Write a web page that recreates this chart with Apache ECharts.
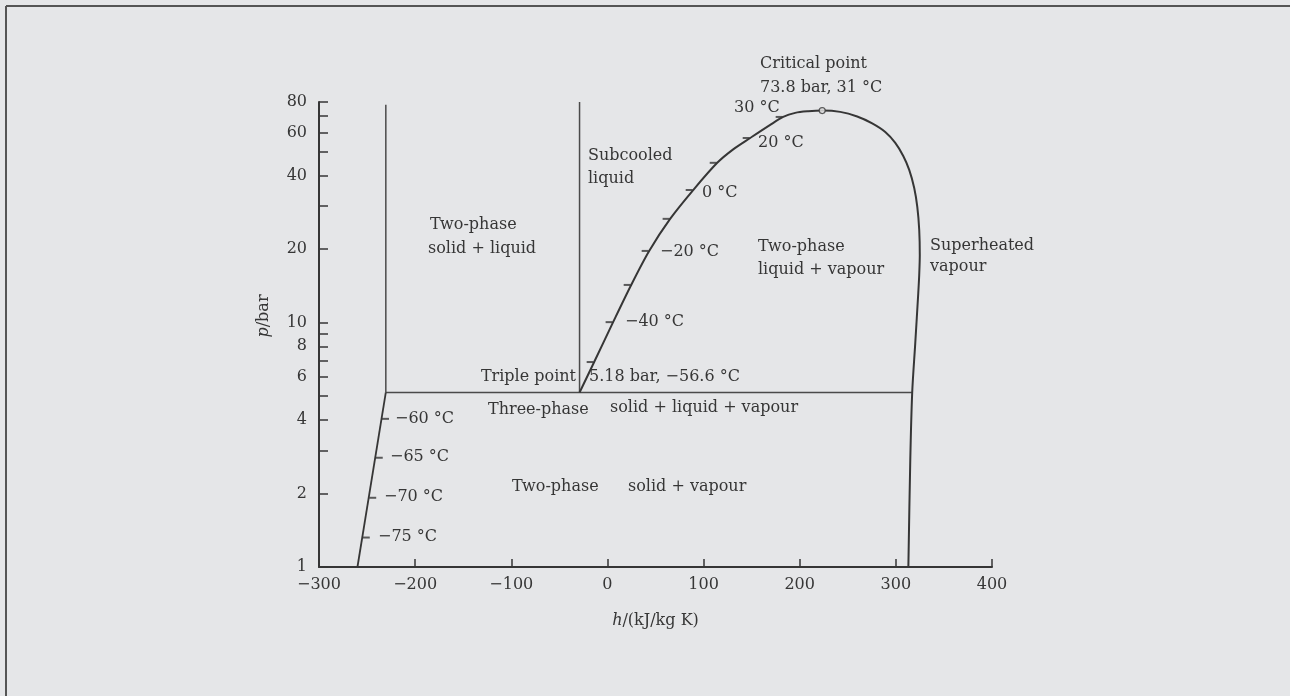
<!DOCTYPE html>
<html>
<head>
<meta charset="utf-8">
<title>CO2 p-h diagram</title>
<script src="https://cdn.jsdelivr.net/npm/echarts@6/dist/echarts.min.js"></script>
<style>
html,body{margin:0;padding:0;background:#e5e6e8;}
#chart{width:1290px;height:696px;}
</style>
</head>
<body>
<div id="chart"></div>
<script>
// saturation dome: liquid side, critical point, vapour side (h in kJ/kg, p in bar)
var domeH = [-29, -13.8, 5.9, 24.7, 43.4, 65.2, 89.2, 114.2, 130.8, 148.5, 169.3, 182.8, 195.3, 208.8, 223.4,
	242.1, 259.8, 275.4, 289.0, 299.4, 307.7, 313.9, 319.1, 322.3, 324.3, 324.9, 324.3, 323.3, 320.2, 317, 315, 313];
var domeP = [5.18, 6.9, 10.05, 14.27, 19.66, 26.6, 34.9, 45.1, 51.2, 57.0, 64.5, 69.5, 72.2, 73.3, 73.8,
	72.9, 69.8, 65.4, 60.3, 54.4, 48.1, 42.2, 35.6, 29.8, 24.0, 18.9, 15.7, 13.2, 8.27, 5.18, 2.74, 1];
// phase boundaries
var meltLeftH = [-230.5, -230.5];
var meltLeftP = [5.18, 78];
var meltRightH = [-29, -29];
var meltRightP = [5.18, 80];
var tripleH = [-230.5, 317];
var tripleP = [5.18, 5.18];
var sublimH = [-260, -230.5];
var sublimP = [1, 5.18];
// temperature marks: -50 ... 30 degC on the liquid line, -60 ... -75 degC on the solid line
var liqTickH = [-13.8, 5.9, 24.7, 43.4, 65.2, 89.2, 114.2, 148.5, 182.8];
var liqTickP = [6.9, 10.05, 14.27, 19.66, 26.6, 34.9, 45.1, 57.0, 69.5];
var subTickH = [-235, -241.5, -248.3, -255];
var subTickP = [4.04, 2.8, 1.92, 1.32];
var critical = [223.4, 73.8];
// axis ticks
var yTicks = [1, 2, 3, 4, 5, 6, 7, 8, 9, 10, 20, 30, 40, 50, 60, 70, 80];
var yLabels = [1, 2, 4, 6, 8, 10, 20, 40, 60, 80];

function zip(a, b){
	var out = [];
	for(var i=0;i<a.length;i++){ out.push([a[i], b[i]]); }
	return out;
}

var ink = '#363636';
var serif = '"DejaVu Serif", "Liberation Serif", serif';

function txt(x, y, s, align){
	return {
		type: 'text', x: x, y: y, silent: true,
		style: { text: s, fill: ink, font: '16px ' + serif, textAlign: align || 'left', textVerticalAlign: 'middle' }
	};
}

var myChart = echarts.init(document.getElementById('chart'));

function lineSeries(h, p, w, col){
	return {
		type: 'line', data: zip(h, p), symbol: 'none', silent: true,
		lineStyle: { color: col || ink, width: w || 1.6 }, z: 3
	};
}

var option = {
	backgroundColor: '#e5e6e8',
	animation: false,
	grid: { left: 319, top: 102, width: 673, height: 465 },
	xAxis: {
		type: 'value', min: -300, max: 400, interval: 100,
		name: '{i|h}/(kJ/kg K)', nameLocation: 'middle', nameGap: 46,
		nameTextStyle: { color: ink, fontFamily: serif, fontSize: 16,
			rich: { i: { fontStyle: 'italic', fontFamily: serif, fontSize: 16, color: ink } } },
		axisLine: { onZero: false, lineStyle: { color: ink, width: 2 } },
		axisTick: { inside: true, length: 8, lineStyle: { color: ink, width: 1.5 } },
		axisLabel: { color: ink, fontFamily: serif, fontSize: 16, margin: 10,
			formatter: function(v){ return String(v).replace('-', '\u2212'); } },
		splitLine: { show: false }
	},
	yAxis: {
		type: 'log', logBase: 10, min: 1, max: 80,
		axisLine: { onZero: false, lineStyle: { color: ink, width: 2 } },
		axisTick: { inside: true, length: 9, customValues: yTicks, lineStyle: { color: ink, width: 1.5 } },
		axisLabel: { color: ink, fontFamily: serif, fontSize: 16, margin: 12, customValues: yLabels },
		splitLine: { show: false },
		minorTick: { show: false }
	},
	graphic: [
		{ type: 'line', shape: { x1: 6, y1: 6, x2: 1290, y2: 6 }, style: { stroke: '#555', lineWidth: 2 }, silent: true },
		{ type: 'line', shape: { x1: 6, y1: 6, x2: 6, y2: 696 }, style: { stroke: '#555', lineWidth: 2 }, silent: true },
		{
			type: 'text', x: 264, y: 316, rotation: Math.PI / 2, silent: true,
			style: { text: '{i|p}/bar', fill: ink, font: '16px ' + serif, textAlign: 'center', textVerticalAlign: 'middle',
				rich: { i: { font: 'italic 16px ' + serif, fill: ink } } }
		},
		txt(760, 64, 'Critical point'),
		txt(760, 88, '73.8 bar, 31 \u00b0C'),
		txt(734, 108, '30 \u00b0C'),
		txt(758, 143, '20 \u00b0C'),
		txt(702, 193, '0 \u00b0C'),
		txt(660, 252, '\u221220 \u00b0C'),
		txt(625, 322, '\u221240 \u00b0C'),
		txt(588, 156, 'Subcooled'),
		txt(588, 179, 'liquid'),
		txt(430, 225, 'Two-phase'),
		txt(428, 249, 'solid + liquid'),
		txt(758, 247, 'Two-phase'),
		txt(758, 270, 'liquid + vapour'),
		txt(930, 246, 'Superheated'),
		txt(930, 267, 'vapour'),
		txt(576, 377, 'Triple point', 'right'),
		txt(589, 377, '5.18 bar, \u221256.6 \u00b0C'),
		txt(488, 410, 'Three-phase'),
		txt(610, 408, 'solid + liquid + vapour'),
		txt(512, 487, 'Two-phase'),
		txt(628, 487, 'solid + vapour'),
		txt(395, 419, '\u221260 \u00b0C'),
		txt(390, 457, '\u221265 \u00b0C'),
		txt(384, 497, '\u221270 \u00b0C'),
		txt(378, 537, '\u221275 \u00b0C')
	],
	series: [
		lineSeries(meltLeftH, meltLeftP, 1.5, '#4a4a4a'),
		lineSeries(meltRightH, meltRightP, 1.5, '#4a4a4a'),
		lineSeries(tripleH, tripleP, 1.5, '#4a4a4a'),
		lineSeries(sublimH, sublimP, 1.8),
		{
			type: 'line', data: zip(domeH, domeP), symbol: 'none', smooth: 0.3, silent: true,
			lineStyle: { color: ink, width: 2 }, z: 3
		},
		{
			type: 'scatter', data: zip(liqTickH, liqTickP), symbol: 'rect', symbolSize: [7, 2],
			symbolOffset: [-4, 0], itemStyle: { color: ink }, silent: true, z: 4
		},
		{
			type: 'scatter', data: zip(subTickH, subTickP), symbol: 'rect', symbolSize: [7, 2],
			symbolOffset: [4, 0], itemStyle: { color: ink }, silent: true, z: 4
		},
		{
			type: 'scatter', data: [critical], symbol: 'circle', symbolSize: 6,
			itemStyle: { color: '#e8e8e8', borderColor: ink, borderWidth: 1.2 }, silent: true, z: 5
		}
	]
};
myChart.setOption(option);
</script>
</body>
</html>
